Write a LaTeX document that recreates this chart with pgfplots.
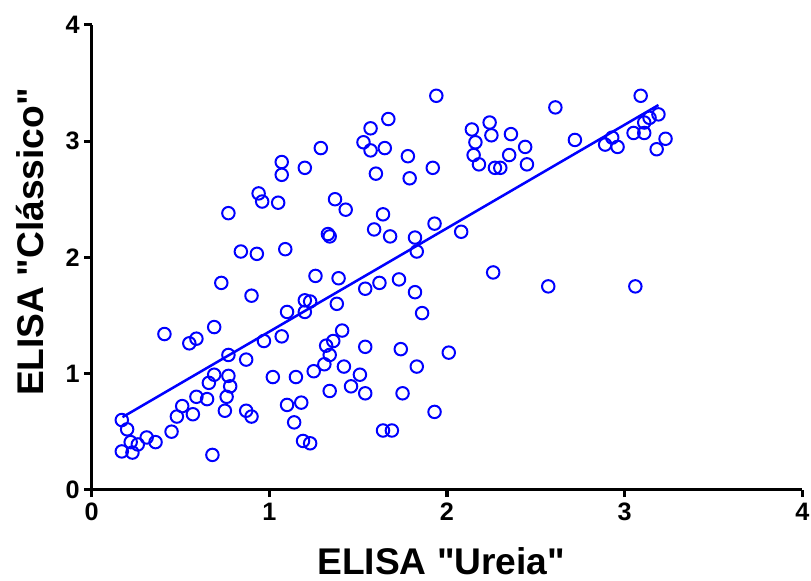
\documentclass[border=0pt]{standalone}
\usepackage{fontspec}
\setmainfont{Liberation Sans}[Ligatures=TeXOff]
\usepackage{pgfplots}
\pgfplotsset{compat=1.18}
\definecolor{ptblue}{RGB}{0,0,255}

\begin{document}
\begin{tikzpicture}
\begin{axis}[
    name=ax,
    scale only axis,
    width=535.5pt, height=350.25pt,
    xmin=0, xmax=4, ymin=0, ymax=4,
    xtick={0,1,2,3,4}, ytick={0,1,2,3,4},
    axis x line=bottom, axis y line=left,
    axis line style={-, line width=2.3pt, black},
    tick align=outside, major tick length=5.5pt,
    tick style={line width=2.3pt, black},
    tick label style={font=\fontsize{19}{22}\selectfont\bfseries},
    /pgf/number format/assume math mode=true,
    xticklabel style={yshift=-1pt},
    label style={font=\fontsize{28}{32}\selectfont\bfseries},
    xlabel={ELISA "Ureia"},
    ylabel={ELISA "Clássico"},
    xlabel style={at={(axis description cs:0.492,-0.153)}, anchor=center},
    ylabel style={at={(axis description cs:-0.0868,0.533)}, anchor=center},
    clip=false,
  ]
  \addplot[only marks, mark=o, mark size=4.7pt, ptblue,
           mark options={line width=1.5pt}] coordinates {
    (0.17,0.60) (0.20,0.52) (0.22,0.41) (0.17,0.33) (0.23,0.32)
    (0.31,0.45) (0.36,0.41) (0.26,0.39) (0.45,0.50) (0.48,0.63)
    (0.51,0.72) (0.57,0.65) (0.59,0.80) (0.65,0.78) (0.66,0.92)
    (0.69,0.99) (0.77,0.98) (0.78,0.89) (0.76,0.80) (0.75,0.68)
    (0.87,0.68) (0.90,0.63) (0.68,0.30) (0.41,1.34) (0.55,1.26)
    (0.59,1.30) (0.69,1.40) (0.77,1.16) (0.87,1.12) (0.97,1.28)
    (1.02,0.97) (0.73,1.78) (0.90,1.67) (0.77,2.38) (0.84,2.05)
    (0.93,2.03) (0.94,2.55) (0.96,2.48) (1.05,2.47) (1.07,2.82)
    (1.07,2.71) (1.20,2.77) (1.29,2.94) (1.37,2.50) (1.43,2.41)
    (1.64,2.37) (1.59,2.24) (1.68,2.18) (1.93,2.29) (1.82,2.17)
    (1.83,2.05) (1.33,2.20) (1.34,2.18) (1.09,2.07) (1.26,1.84)
    (1.39,1.82) (1.54,1.73) (1.62,1.78) (1.73,1.81) (1.82,1.70)
    (1.86,1.52) (1.20,1.63) (1.23,1.62) (1.10,1.53) (1.20,1.53)
    (1.38,1.60) (1.07,1.32) (1.41,1.37) (1.36,1.28) (1.32,1.24)
    (1.34,1.16) (1.31,1.08) (1.25,1.02) (1.42,1.06) (1.54,1.23)
    (1.74,1.21) (2.01,1.18) (1.83,1.06) (1.15,0.97) (1.51,0.99)
    (1.46,0.89) (1.54,0.83) (1.34,0.85) (1.75,0.83) (1.10,0.73)
    (1.18,0.75) (1.14,0.58) (1.93,0.67) (1.19,0.42) (1.23,0.40)
    (1.64,0.51) (1.69,0.51) (2.08,2.22) (2.26,1.87) (2.57,1.75)
    (1.94,3.39) (1.67,3.19) (1.57,3.11) (1.53,2.99) (1.57,2.92)
    (1.65,2.94) (1.78,2.87) (1.92,2.77) (1.79,2.68) (1.60,2.72)
    (2.61,3.29) (3.09,3.39) (2.14,3.10) (2.24,3.16) (2.25,3.05)
    (2.16,2.99) (2.15,2.88) (2.18,2.80) (2.27,2.77) (2.30,2.77)
    (2.36,3.06) (2.44,2.95) (2.35,2.88) (2.45,2.80) (2.72,3.01)
    (2.89,2.97) (2.96,2.95) (2.93,3.03) (3.05,3.07) (3.11,3.07)
    (3.11,3.16) (3.19,3.23) (3.14,3.20) (3.23,3.02) (3.18,2.93)
    (3.06,1.75)
  };
  % fitted line
  \addplot[ptblue, line width=1.9pt, no marks] coordinates {(0.174,0.625) (3.19,3.31)};
\end{axis}
\pgfresetboundingbox
\path[use as bounding box] ([xshift=-69pt,yshift=-68.25pt]ax.south west)
  rectangle ([xshift=6.5pt,yshift=18.75pt]ax.north east);
\end{tikzpicture}
\end{document}
